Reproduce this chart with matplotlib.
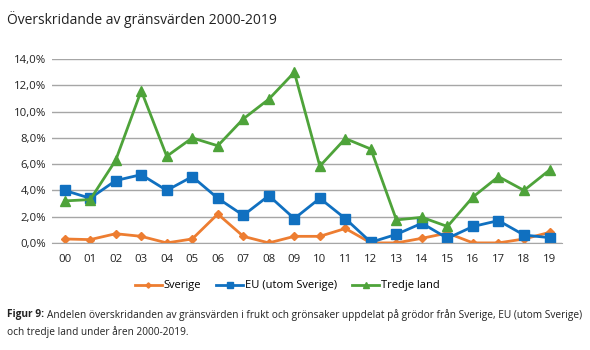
import matplotlib
matplotlib.use("Agg")
import matplotlib.pyplot as plt
from matplotlib.ticker import FuncFormatter

years = ["00","01","02","03","04","05","06","07","08","09","10","11","12","13","14","15","16","17","18","19"]
sverige = [0.3,0.25,0.7,0.5,0.0,0.3,2.2,0.5,0.0,0.5,0.5,1.1,0.0,0.0,0.35,0.75,0.0,0.0,0.3,0.8]
eu = [4.0,3.4,4.75,5.2,4.0,5.05,3.4,2.1,3.6,1.85,3.4,1.85,0.05,0.65,1.5,0.35,1.25,1.7,0.6,0.4]
tredje = [3.2,3.3,6.3,11.6,6.6,8.0,7.4,9.45,10.95,13.0,5.85,7.95,7.15,1.75,1.95,1.25,3.5,5.05,4.0,5.55]
series_names = ["Sverige", "EU (utom Sverige)", "Tredje land"]

plt.rcParams['font.family'] = ['Open Sans', 'DejaVu Sans']

fig = plt.figure(figsize=(5.9, 3.5), dpi=100)
ax = fig.add_axes([0.088, 0.306, 0.865, 0.525])

x = list(range(len(years)))
ax.plot(x, sverige, color='#ED7D31', lw=2.0, marker='D', ms=4.5, label=series_names[0])
ax.plot(x, eu, color='#1070C0', lw=2.0, marker='s', ms=7, label=series_names[1])
ax.plot(x, tredje, color='#4EA33A', lw=2.0, marker='^', ms=7.5, label=series_names[2])

ax.set_xlim(-0.5, len(years) - 0.5)
ax.set_ylim(0, 14)
ax.set_yticks([0, 2, 4, 6, 8, 10, 12, 14])
ax.yaxis.set_major_formatter(FuncFormatter(lambda v, p: f"{v:.1f}%".replace('.', ',')))
ax.set_xticks(x)
ax.set_xticklabels(years)
ax.grid(axis='y', color='#A6A6A6', lw=1.0)
ax.set_axisbelow(True)
for s in ['top', 'right', 'left']:
    ax.spines[s].set_visible(False)
ax.spines['bottom'].set_color('#A6A6A6')
ax.tick_params(axis='both', length=0, labelsize=8.2, colors='#222222')
ax.tick_params(axis='x', pad=8)
ax.tick_params(axis='y', pad=4)

fig.text(0.012, 0.945, "Överskridande av gränsvärden 2000-2019", fontsize=10, color='#222222', va='center')

leg = fig.legend(loc='center', bbox_to_anchor=(0.487, 0.183), ncol=3, frameon=False,
                 fontsize=8, handlelength=2.4, columnspacing=1.4, handletextpad=0.15,
                 markerscale=0.6)

fig.canvas.draw()
r = fig.canvas.get_renderer()
t1 = fig.text(0.012, 0.1, "Figur 9:", fontsize=7.3, fontweight='bold', color='#222222', va='center')
bb = t1.get_window_extent(r)
x2 = (bb.x1 + 3) / fig.bbox.width
fig.text(x2, 0.1, "Andelen överskridanden av gränsvärden i frukt och grönsaker uppdelat på grödor från Sverige, EU (utom Sverige)",
         fontsize=7.3, color='#222222', va='center')
fig.text(0.012, 0.05, "och tredje land under åren 2000-2019.", fontsize=7.3, color='#222222', va='center')

fig.savefig("out.png", dpi=100)
